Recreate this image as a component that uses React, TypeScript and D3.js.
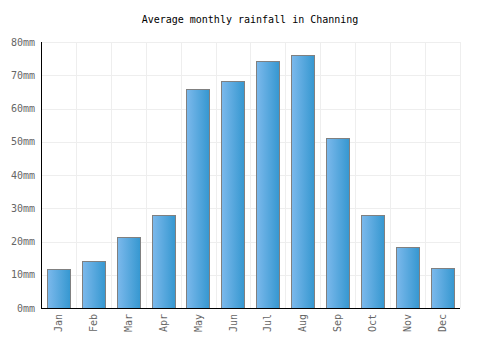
import React from "react";
import * as d3 from "d3";

const months = ["Jan", "Feb", "Mar", "Apr", "May", "Jun", "Jul", "Aug", "Sep", "Oct", "Nov", "Dec"];
const rainfall = [11.6, 14.0, 21.4, 28.0, 65.8, 68.4, 74.4, 76.2, 51.0, 28.0, 18.2, 11.9];
const yTicks = [0, 10, 20, 30, 40, 50, 60, 70, 80];
const title = "Average monthly rainfall in Channing";

const W = 500, H = 350;
const m = { left: 41, right: 40, top: 42, bottom: 42 };
const font = "'DejaVu Sans Mono', monospace";

export default function App() {
  const x = d3.scaleBand<string>().domain(months).range([m.left, W - m.right]).paddingInner(0.33).paddingOuter(0.165);
  const xg = d3.scaleBand<string>().domain(months).range([m.left, W - m.right]);
  const y = d3.scaleLinear().domain([0, 80]).range([H - m.bottom, m.top]);
  return (
    <svg width={W} height={H} style={{ position: "absolute", left: 0, top: 0 }}>
      <defs>
        <linearGradient id="barGrad" x1="0" x2="1" y1="0" y2="0">
          <stop offset="0%" stopColor="#7cb9ec" />
          <stop offset="100%" stopColor="#3597d0" />
        </linearGradient>
      </defs>
      <rect width={W} height={H} fill="#fff" />
      <text x={W / 2} y={23} textAnchor="middle" fontFamily={font} fontSize={10} fill="#000">{title}</text>
      {yTicks.map((t) => (
        <line key={"h" + t} x1={m.left} x2={W - m.right} y1={Math.round(y(t)) + 0.5} y2={Math.round(y(t)) + 0.5} stroke="#eeeeee" />
      ))}
      {months.map((mo) => (
        <line key={"v" + mo} x1={Math.round(xg(mo)! + xg.bandwidth()) + 0.5} x2={Math.round(xg(mo)! + xg.bandwidth()) + 0.5} y1={m.top} y2={H - m.bottom} stroke="#eeeeee" />
      ))}
      {months.map((mo, i) => (
        <rect key={"b" + mo} x={Math.round(x(mo)!) + 0.5} y={Math.round(y(rainfall[i])) + 0.5} width={Math.round(x.bandwidth())} height={Math.round(y(0) - y(rainfall[i]))} fill="url(#barGrad)" stroke="#808080" strokeWidth={1} />
      ))}
      <line x1={m.left + 0.5} x2={m.left + 0.5} y1={m.top} y2={H - m.bottom} stroke="#000" />
      <line x1={m.left} x2={W - m.right} y1={H - m.bottom + 0.5} y2={H - m.bottom + 0.5} stroke="#000" />
      {yTicks.map((t) => (
        <text key={"yl" + t} x={35} y={y(t) + 3.5} textAnchor="end" fontFamily={font} fontSize={10} fill="#666">{t + "mm"}</text>
      ))}
      {months.map((mo) => {
        const cx = xg(mo)! + xg.bandwidth() / 2 + 3.5;
        const cy = H - m.bottom + 6;
        return (
          <text key={"xl" + mo} transform={`translate(${cx},${cy}) rotate(-90)`} textAnchor="end" fontFamily={font} fontSize={10} fill="#666">{mo}</text>
        );
      })}
    </svg>
  );
}
